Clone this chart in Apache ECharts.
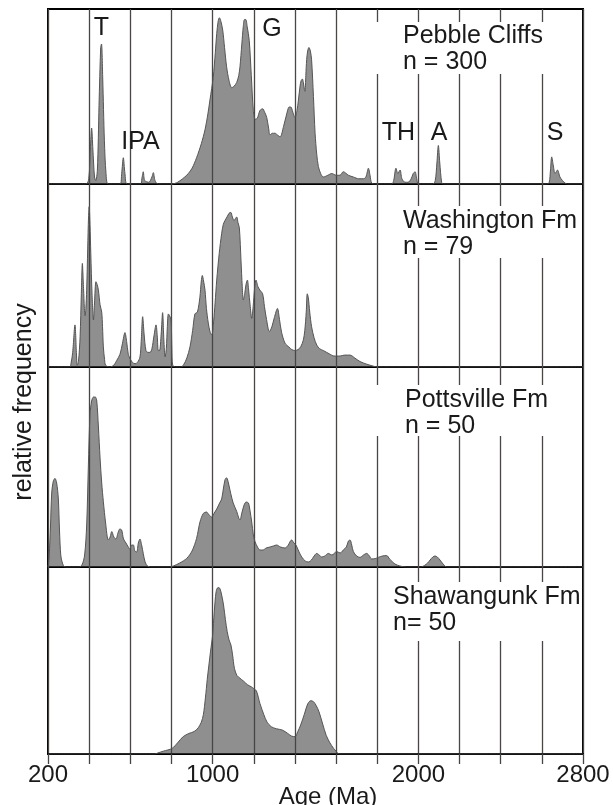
<!DOCTYPE html>
<html><head><meta charset="utf-8">
<script src="https://cdn.jsdelivr.net/npm/echarts@6/dist/echarts.min.js"></script>
<style>html,body{margin:0;padding:0;background:#fff}#c{width:613px;height:805px}</style>
</head><body><div id="c"></div>
<script>
// ---- data (age in Ma, relative frequency in % of panel height) ----
const pebbleCliffs = [[200,0],[385,0],[398,3],[406,20],[412,32],[418,20],[426,4],[432,2],[440,8],[448,45],[456,78],[460,80],[466,60],[474,25],[482,6],[493,0],
[550,0],[558,6],[566,15],[574,6],[585,0],
[650,0],[656,3],[663,7],[670,2],[690,1],[705,4],[712,6.5],[720,2],[735,0],
[800,0],[830,1],[874,5],[900,9],[922,15],[945,23],[963,31],[977,40],[987,48],[1003,61],[1013,75],[1020,86],[1027,93],[1033,95],[1040,93],[1049,88],[1058,78],[1068,67],[1080,59],[1093,55],[1105,56],[1117,58],[1127,62],[1133,67],[1142,80],[1149,90],[1155,94],[1161,94],[1168,90],[1178,82],[1188,62],[1198,42],[1207,37],[1217,37.5],[1230,42],[1243,43],[1253,41],[1263,38],[1272,32],[1279,28],[1290,29],[1303,29],[1315,28],[1328,27],[1345,33],[1360,40],[1372,44],[1380,44],[1390,41],[1400,38],[1410,42],[1417,48],[1425,56],[1430,59],[1436,60],[1441,58],[1446,54],[1449,53],[1453,62],[1457,71],[1462,76],[1468,78],[1475,76],[1481,71],[1490,50],[1498,29],[1506,17],[1514,10],[1525,6],[1538,4],[1560,5],[1579,6],[1600,5],[1619,5],[1635,7],[1660,5],[1684,4],[1710,3],[1733,3],[1745,4],[1757,9],[1765,5],[1773,0.5],[1790,0],
[1870,0],[1880,2],[1891,9],[1900,6],[1911,8],[1920,3],[1935,1],[1950,1],[1965,3],[1975,6],[1984,7],[1992,3],[2000,0],
[2070,0],[2082,2],[2090,12],[2097,22],[2104,12],[2113,1],[2120,0],
[2625,0],[2636,1],[2642,8],[2648,15.5],[2655,11],[2664,6],[2670,7],[2676,8],[2688,4],[2700,2],[2713,0.5],[2725,0],[2800,0]];

const washingtonFm = [[200,0],[305,0],[312,2],[320,8],[331,23],[338,8],[342,1],[348,3],[356,16.5],[362,40],[367,56.6],[372,45],[380,28],[384,32],[388,42],[393,65],[397,82],[400,87.6],[404,78],[408,62],[414,40],[421,25.7],[426,35],[433,46.6],[439,45],[445,42],[453,34],[461,30],[465,22],[469,11],[475,4],[480,1],[500,0],
[520,1],[534,3.6],[550,7],[562,13],[574,18.8],[582,14],[590,7],[595,5.5],[610,2.5],[623,1.8],[635,2.5],[647,5.5],[653,14],[660,27.5],[667,18],[676,9],[686,8],[696,8],[705,10],[715,17],[725,23],[731,17],[736,9],[742,9],[750,18],[757,29.7],[763,15],[769,5.5],[775,10],[780,22],[785,29],[791,28],[798,25.7],[802,10],[806,1],[820,0],
[845,0],[858,1],[875,5],[890,11],[903,20],[914,29],[926,30],[938,38],[945,47],[950,50],[956,47],[963,42],[970,32],[979,24],[988,19],[996,17.5],[1005,25],[1012,35],[1020,47.5],[1032,62],[1044,73],[1052,78],[1060,80],[1070,82],[1080,84],[1088,84.5],[1096,82],[1104,80],[1110,81],[1117,82],[1123,79],[1130,76],[1138,58],[1144,44],[1149,36.6],[1156,40],[1162,45],[1169,47.5],[1175,42],[1182,34],[1190,26.6],[1197,33],[1204,43],[1211,47.5],[1220,44],[1230,42],[1243,40],[1252,33],[1262,26],[1276,19.3],[1288,22],[1300,27],[1315,32],[1325,26],[1335,19],[1352,13],[1370,11],[1385,9.5],[1400,9],[1415,9.5],[1428,11],[1441,14.8],[1448,20],[1455,30],[1460,40],[1465,38],[1472,30],[1481,22],[1493,16],[1506,12],[1520,10],[1538,9],[1554,8],[1570,7],[1590,6],[1603,6],[1620,6],[1640,6.5],[1668,6.5],[1690,5],[1716,3],[1750,1.5],[1780,0.5],[1800,0],[2800,0]];

const pottsvilleFm = [[200,0],[203,2],[206,6],[212,20],[218,37],[226,43],[234,44.3],[242,42],[250,34.5],[256,18],[262,6],[270,2],[283,0],
[350,0],[365,1],[378,6],[388,21],[396,50],[404,76],[412,83],[421,85],[430,85],[437,83],[445,70],[453,54.5],[461,42],[469,32.7],[480,22],[493,13.5],[502,15],[510,17.7],[520,15],[530,14],[540,17],[549,19],[558,18.5],[567,14],[579,12],[590,10],[598,9],[606,11],[615,11],[622,8],[631,7.5],[639,12],[647,14],[655,11],[663,6.7],[672,2.5],[683,0.5],[700,0],
[790,0],[809,0.5],[840,2],[874,4.3],[900,8],[922,14.3],[939,22.7],[955,26.8],[970,27.5],[983,26],[996,25],[1008,27],[1020,29],[1034,32],[1044,34],[1052,39],[1060,43.5],[1066,44.5],[1071,44.3],[1079,41],[1088,36.8],[1100,32],[1117,27.8],[1127,24.5],[1133,23.5],[1142,27],[1153,31],[1163,32.5],[1174,32],[1182,28],[1190,22.5],[1198,16],[1206,12.7],[1218,10],[1230,8.5],[1245,8.5],[1260,9.5],[1279,10],[1295,10.5],[1311,11],[1330,10],[1352,9.5],[1368,11],[1378,13],[1384,13.5],[1395,12],[1405,11],[1418,8],[1433,5],[1450,3],[1465,2.5],[1480,3.5],[1490,5],[1506,6.8],[1518,6],[1530,5],[1545,5.5],[1562,6.8],[1580,6],[1603,7.7],[1620,7],[1635,8.5],[1650,10],[1660,13],[1668,13.5],[1676,11],[1684,7.7],[1700,5.5],[1716,4.8],[1733,6],[1749,6.8],[1762,5.5],[1773,4],[1790,4.2],[1805,4.8],[1825,5.5],[1846,5.7],[1860,4],[1875,2.5],[1886,1.5],[1910,0.5],[1943,0],[2010,0],[2030,0.8],[2045,2],[2057,3.5],[2070,5],[2081,5.5],[2092,5],[2105,3.5],[2120,1.5],[2138,0],[2800,0]];

const shawangunkFm = [[200,0],[720,0],[732,0.5],[760,1.5],[803,3],[830,6],[857,9.3],[885,11],[910,12],[930,14],[945,17],[955,21],[965,30],[974,40],[982,47.6],[990,55],[1000,63.6],[1008,76],[1017,86.8],[1026,89],[1035,88.6],[1044,85],[1053,79.7],[1062,72],[1071,65.4],[1080,61],[1089,58.3],[1097,53],[1106,45.8],[1118,42],[1133,40.5],[1150,39],[1170,37],[1187,36],[1200,35],[1213,33.7],[1230,27],[1249,21],[1265,17],[1285,14.6],[1310,13.5],[1339,12.8],[1365,11],[1385,9.5],[1401,9.3],[1414,12],[1428,15.5],[1445,21],[1463,27],[1477,28.5],[1490,28],[1503,26],[1517,22.6],[1535,16],[1552,10],[1570,6],[1588,3],[1600,1.5],[1614,0],[2800,0]];

const panelNames = ['Pebble Cliffs', 'Washington Fm', 'Pottsville Fm', 'Shawangunk Fm'];
const panelCounts = ['n = 300', 'n = 79', 'n = 50', 'n= 50'];
const provenanceLabels = ['T', 'IPA', 'G', 'TH', 'A', 'S'];
const tickLabels = [200, 1000, 2000, 2800];
const xTitle = 'Age (Ma)';
const yTitle = 'relative frequency';

// ---- layout ----
const FONT = '"Liberation Sans", Arial, Helvetica, sans-serif';
const seriesData = [pebbleCliffs, washingtonFm, pottsvilleFm, shawangunkFm];
const panelBox = [
  {top: 9, height: 175},
  {top: 184, height: 183},
  {top: 367, height: 200},
  {top: 567, height: 187}
];
const gapBox = [
  {x: 371, y: 22, w: 210, h: 52},
  {x: 395, y: 206, w: 186, h: 52},
  {x: 371, y: 385, w: 210, h: 51},
  {x: 390, y: 582, w: 191, h: 59}
];
const titlePos = [
  {x: 403, y1: 36, y2: 62},
  {x: 403, y1: 221, y2: 247},
  {x: 405, y1: 400, y2: 426},
  {x: 393, y1: 597, y2: 623}
];
const provPos = [
  {x: 101.5, y: 28}, {x: 140.5, y: 142}, {x: 272, y: 29},
  {x: 398.5, y: 133}, {x: 439, y: 133}, {x: 555, y: 133}
];

const grids = panelBox.map(p => ({
  left: 48, right: 30, top: p.top, height: p.height,
  show: true, borderColor: '#000', borderWidth: 2, backgroundColor: 'transparent'
}));
const last = panelBox.length - 1;
const xAxes = panelBox.map((p, i) => ({
  type: 'value', gridIndex: i, min: 200, max: 2800, interval: 200,
  axisLine: {show: i === last, lineStyle: {color: '#000', width: 2}},
  axisTick: {show: i === last, inside: false, length: 10, lineStyle: {color: '#444', width: 1.3}},
  axisLabel: {
    show: i === last, margin: 9, color: '#1a1a1a', fontSize: 24, fontFamily: FONT,
    showMinLabel: true, showMaxLabel: true,
    formatter: v => tickLabels.indexOf(v) >= 0 ? String(v) : ''
  },
  splitLine: {show: true, lineStyle: {color: '#4a4646', width: 1.3}}
}));
const yAxes = panelBox.map((p, i) => ({
  type: 'value', gridIndex: i, min: 0, max: 100,
  show: false, splitLine: {show: false}
}));
const series = seriesData.map((d, i) => ({
  type: 'line', xAxisIndex: i, yAxisIndex: i, data: d,
  smooth: 0.3, symbol: 'none', clip: true,
  lineStyle: {color: '#555', width: 1},
  areaStyle: {color: '#454545', opacity: 0.6},
  silent: true
}));

const graphic = [];
gapBox.forEach(g => graphic.push({type: 'rect', z: 100, shape: {x: g.x, y: g.y, width: g.w, height: g.h}, style: {fill: '#fff'}}));
titlePos.forEach((t, i) => {
  graphic.push({type: 'text', z: 101, x: t.x, y: t.y1, style: {text: panelNames[i], font: '25px ' + FONT, fill: '#1a1a1a', align: 'left', verticalAlign: 'middle'}});
  graphic.push({type: 'text', z: 101, x: t.x, y: t.y2, style: {text: panelCounts[i], font: '25px ' + FONT, fill: '#1a1a1a', align: 'left', verticalAlign: 'middle'}});
});
provPos.forEach((p, i) => graphic.push({type: 'text', z: 101, x: p.x, y: p.y, style: {text: provenanceLabels[i], font: '25px ' + FONT, fill: '#1a1a1a', align: 'center', verticalAlign: 'middle'}}));
graphic.push({type: 'text', z: 101, x: 328, y: 797, style: {text: xTitle, font: '24px ' + FONT, fill: '#1a1a1a', align: 'center', verticalAlign: 'middle'}});
graphic.push({type: 'text', z: 101, x: 24, y: 402, rotation: Math.PI / 2, style: {text: yTitle, font: '25px ' + FONT, fill: '#1a1a1a', align: 'center', verticalAlign: 'middle'}});

const chart = echarts.init(document.getElementById('c'), null, {renderer: 'canvas'});
chart.setOption({
  animation: false,
  backgroundColor: '#fff',
  grid: grids, xAxis: xAxes, yAxis: yAxes, series: series, graphic: graphic
});
</script></body></html>
